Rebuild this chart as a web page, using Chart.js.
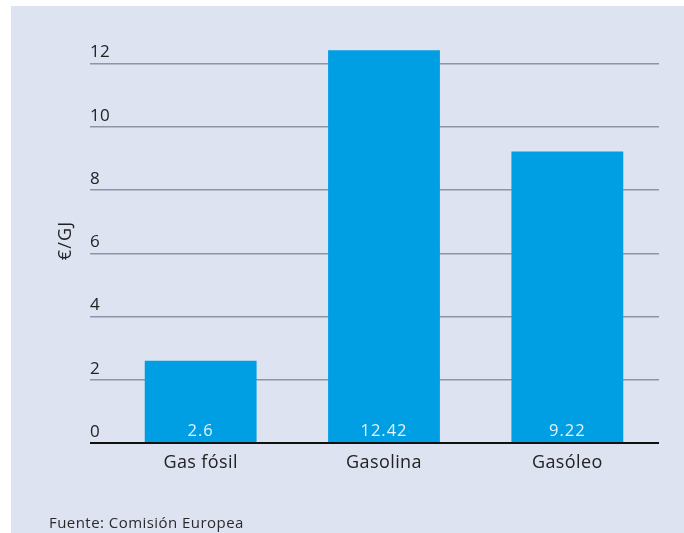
<!DOCTYPE html>
<html>
<head>
<meta charset="utf-8">
<script src="https://cdn.jsdelivr.net/npm/chart.js@4"></script>
<style>
  html, body { margin: 0; padding: 0; background: #ffffff; }
  #wrap { position: relative; width: 684px; height: 533px; overflow: hidden; }
  #panel { position: absolute; left: 11px; top: 6px; right: 0; bottom: 0; background: #dde3f1; }
  #c { position: absolute; left: 0; top: 0; }
  #note { position: absolute; left: 49px; top: 512px; font: 15px "Open Sans", sans-serif; letter-spacing: 0.45px; color: #2a2a2a; }
</style>
</head>
<body>
<div id="wrap">
  <div id="panel"></div>
  <canvas id="c" width="684" height="533"></canvas>
  <div id="note">Fuente: Comisión Europea</div>
</div>
<script>
const categories = ["Gas fósil", "Gasolina", "Gasóleo"];
const values = [2.6, 12.42, 9.22];
const valueLabels = ["2.6", "12.42", "9.22"];
const yTicks = [0, 2, 4, 6, 8, 10, 12];
const yTitle = "€/GJ";

const FONT = '"Open Sans", sans-serif';
const GRID = '#8e95a5';

const extras = {
  id: 'extras',
  beforeDraw(chart) {
    chart.ctx.letterSpacing = '0.4px';
  },
  afterDatasetsDraw(chart) {
    const ctx = chart.ctx;
    const meta = chart.getDatasetMeta(0);
    const y = chart.scales.y;
    ctx.save();
    ctx.letterSpacing = '1px';
    ctx.font = '16.5px ' + FONT;
    ctx.fillStyle = '#e4f2fb';
    ctx.textAlign = 'center';
    ctx.textBaseline = 'middle';
    meta.data.forEach((bar, i) => {
      ctx.fillText(valueLabels[i], bar.x, y.getPixelForValue(0) - 12);
    });
    ctx.restore();
  },
  afterDraw(chart) {
    const ctx = chart.ctx;
    const y = chart.scales.y;
    ctx.save();
    ctx.letterSpacing = '1.2px';
    ctx.font = '18px ' + FONT;
    ctx.fillStyle = '#222';
    ctx.textAlign = 'center';
    ctx.textBaseline = 'middle';
    ctx.translate(66, (y.getPixelForValue(6) + y.getPixelForValue(7)) / 2 + 3);
    ctx.rotate(-Math.PI / 2);
    ctx.fillText(yTitle, 0, 0);
    ctx.restore();
    ctx.letterSpacing = '0px';
  }
};

new Chart(document.getElementById('c'), {
  type: 'bar',
  data: {
    labels: categories,
    datasets: [{
      data: values,
      backgroundColor: '#009fe3',
      borderWidth: 0,
      barPercentage: 0.61,
      categoryPercentage: 1
    }]
  },
  options: {
    responsive: false,
    animation: false,
    devicePixelRatio: 1,
    layout: { padding: { left: 90, right: 25, top: 32, bottom: 50 } },
    plugins: { legend: { display: false }, tooltip: { enabled: false } },
    scales: {
      x: {
        grid: { display: false, drawTicks: false },
        border: { display: false },
        ticks: { color: '#222', font: { family: FONT, size: 18 }, padding: 9 },
        afterFit(s) { s.height = 40; }
      },
      y: {
        min: 0,
        max: 13,
        afterBuildTicks(s) { s.ticks = yTicks.map(v => ({ value: v })); },
        border: { display: false },
        grid: {
          color: c => (c.tick && c.tick.value === 0) ? '#111' : GRID,
          tickColor: c => (c.tick && c.tick.value === 0) ? '#111' : GRID,
          lineWidth: c => (c.tick && c.tick.value === 0) ? 2 : 1.5,
          tickLength: 19,
          drawTicks: true
        },
        ticks: {
          color: '#222',
          font: { family: FONT, size: 17 },
          crossAlign: 'far',
          labelOffset: -11,
          padding: 0
        },
        afterFit(s) { s.width = 19; }
      }
    }
  },
  plugins: [extras]
});
</script>
</body>
</html>
